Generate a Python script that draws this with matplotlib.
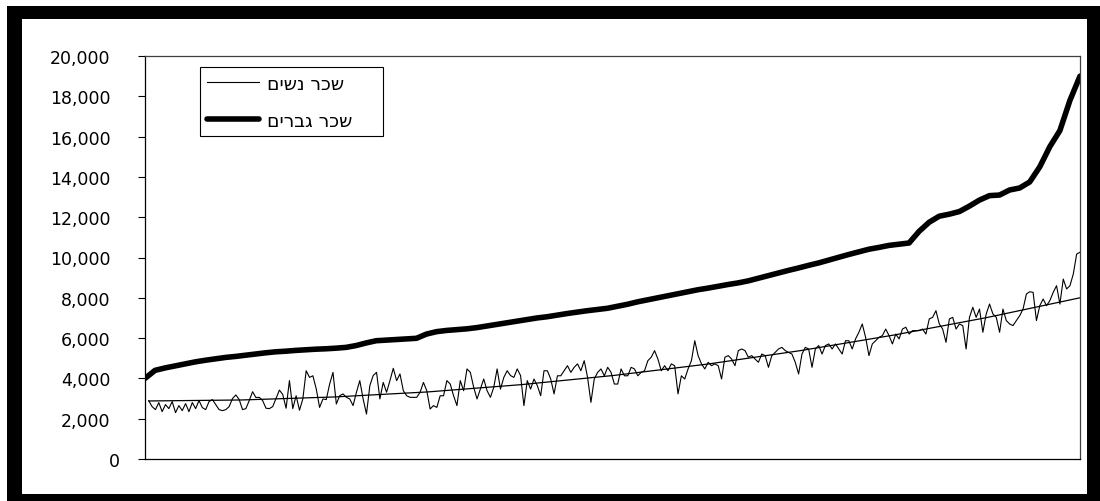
import numpy as np
import matplotlib.pyplot as plt
from matplotlib.patches import Rectangle
from matplotlib.transforms import ScaledTranslation

# women's salary (noisy series), read left to right
women = [
    2890, 2600, 2450, 2800, 2350, 2700, 2500, 2850, 2300, 2650, 2400, 2750, 2350, 2800, 2500,
    2900, 2550, 2450, 2850, 2950, 2700, 2450, 2400, 2450, 2600, 3000, 3180, 2950, 2450, 2500,
    2900, 3340, 3050, 3060, 2900, 2520, 2500, 2600, 3000, 3420, 3200, 2520, 3890, 2500, 3140,
    2420, 2980, 4380, 4050, 4130, 3480, 2560, 2980, 2950, 3720, 4300, 2730, 3140,
    3230, 3060, 2980, 2650, 3310, 3890, 2980, 2230, 3640, 4140, 4300, 2980, 3800, 3310, 3890,
    4500, 3890, 4220, 3390, 3140, 3060, 3060, 3060, 3310, 3800, 3390, 2480, 2650, 2560, 3140,
    3140, 3890, 3720, 3140, 2650, 3890, 3390, 4470, 4300, 3560, 2980, 3470, 3970, 3390, 3060,
    3560, 4470, 3470, 4050, 4380, 4140, 4050, 4470, 4140, 2650, 3890, 3470,
    3970, 3640, 3140, 4380, 4380, 3970, 3230, 4130, 4130, 4380, 4630, 4300, 4550, 4720, 4380,
    4880, 4050, 2810, 3970, 4300, 4470, 4130, 4550, 4300, 3720, 3720, 4470, 4130, 4130, 4550,
    4470, 4130, 4300, 4380, 4880, 5050, 5380, 4960, 4380, 4630, 4380, 4720, 4630, 3230, 4130,
    3970, 4470, 4880, 5870, 5130, 4720, 4470, 4800, 4630,
    4720, 4630, 3970, 5050, 5130, 4960, 4630, 5380, 5460, 5380, 5050, 5130, 4960, 4800, 5210,
    5130, 4550, 5130, 5290, 5460, 5540, 5380, 5290, 5210, 4800, 4220, 5210, 5540, 5460, 4550,
    5460, 5630, 5210, 5630, 5710, 5460, 5710, 5460, 5210, 5870, 5870, 5460, 5960, 6290, 6700,
    6040, 5130, 5710, 5870, 6040, 6120, 6450, 6120, 5710, 6200,
    5960, 6450, 6540, 6200, 6370, 6370, 6370, 6450, 6200, 6950, 7030, 7360, 6700, 6450, 5790,
    6950, 7030, 6450, 6700, 6620, 5460, 7030, 7530, 7030, 7440, 6290, 7200, 7690, 7200, 7030,
    6290, 7440, 6870, 6700, 6620, 6870, 7110, 7440, 8190, 8300, 8270, 6870, 7610, 7940, 7610,
    7860, 8270, 8600, 7690, 8930, 8440, 8600, 9180, 10170, 10260,
]

# men's salary (sorted, smooth series)
men = [
    4000, 4400, 4520, 4620, 4720, 4820, 4900, 4970, 5040, 5090, 5150, 5210, 5270, 5320, 5350,
    5390, 5420, 5450, 5470, 5500, 5540, 5630, 5760, 5870, 5900, 5930, 5960, 5990, 6200, 6320,
    6380, 6420, 6460, 6520, 6600, 6680, 6760, 6840, 6920, 7000, 7060, 7140, 7220, 7290, 7360,
    7420, 7480, 7580, 7680, 7800, 7900, 8000, 8100, 8200, 8300, 8400, 8480, 8570, 8660, 8740,
    8840, 8970, 9100, 9230, 9360, 9480, 9610, 9730, 9870, 10010, 10150, 10280, 10410, 10500, 10600,
    10660, 10720, 11300, 11750, 12050, 12150, 12280, 12550, 12850, 13070, 13100, 13350, 13450, 13750, 14500,
    15500, 16300, 17800, 19000,
]

# polynomial trendline of the women's series, read at evenly spaced points
trend = [2880, 2930, 3080, 3330, 3690, 4150, 4710, 5380, 6150, 7020, 8000]

yticks = [0, 2000, 4000, 6000, 8000, 10000, 12000, 14000, 16000, 18000, 20000]
women_label = 'שכר נשים'
men_label = 'שכר גברים'

W, H = 1100, 502
fig = plt.figure(figsize=(W / 100, H / 100), dpi=100)


def frame_box(x0, y0, x1, y1, color):
    fig.patches.append(Rectangle((x0 / W, 1 - y1 / H), (x1 - x0) / W, (y1 - y0) / H,
                                 transform=fig.transFigure, facecolor=color,
                                 edgecolor='none', zorder=-2))


# thick black border around the chart
frame_box(7, 7, 1100, 502, 'black')
frame_box(22, 20, 1087, 495, 'white')

ax = fig.add_axes([145 / W, 1 - 460 / H, 935 / W, 403 / H])
ax.set_facecolor('white')

xw = np.linspace(0.004, 1, len(women))
xm = np.linspace(0, 1, len(men))
xt = np.linspace(0.004, 1, len(trend))

# matplotlib has no bidi support, so Hebrew labels are reversed for display
# (trailing spaces leave the extra room on the right of the legend box)
ax.plot(xw, women, color='black', lw=0.8, label=women_label[::-1] + '    ')
ax.plot(xm, men, color='black', lw=4, solid_capstyle='round', label=men_label[::-1] + '    ')
ax.plot(xt, trend, color='black', lw=0.9, label='_nolegend_')

ax.set_xlim(0, 1)
ax.set_ylim(0, 20000)
ax.set_xticks([])
ax.set_yticks(yticks)
ax.set_yticklabels([f'{v:,}' for v in yticks], fontsize=12.5, family='DejaVu Sans')
ax.tick_params(axis='y', direction='out', length=5, width=0.8, pad=20, colors='black')
# the "0" label sits a little further right in the original
zero = ax.get_yticklabels()[0]
zero.set_transform(zero.get_transform() + ScaledTranslation(0.1, 0, fig.dpi_scale_trans))

for s in ['left', 'bottom']:
    ax.spines[s].set_color('black')
    ax.spines[s].set_linewidth(0.9)
for s in ['top', 'right']:
    ax.spines[s].set_color('#404040')
    ax.spines[s].set_linewidth(0.9)

leg = ax.legend(loc='upper left', bbox_to_anchor=(0.059, 0.972), borderaxespad=0,
                frameon=True, fancybox=False, edgecolor='black', framealpha=1,
                prop={'family': 'DejaVu Sans', 'size': 13.5},
                handlelength=2.8, handletextpad=0.4, labelspacing=0.96, borderpad=0.35)
leg.get_frame().set_linewidth(0.8)

fig.savefig('out.png', dpi=100, facecolor='white')
